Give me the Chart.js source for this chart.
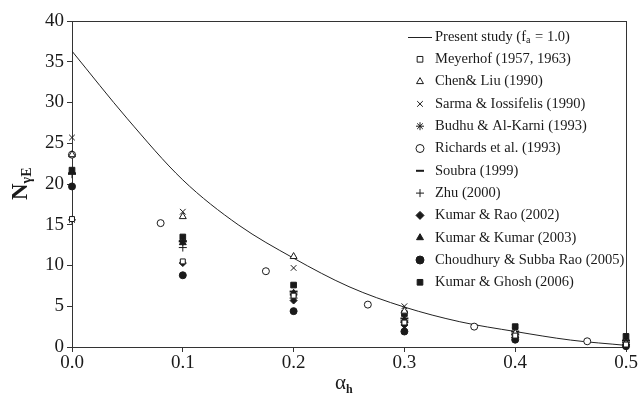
<!DOCTYPE html>
<html>
<head>
<meta charset="utf-8">
<script src="https://cdn.jsdelivr.net/npm/chart.js@4.4.1/dist/chart.umd.min.js"></script>
<style>
  html, body { margin: 0; padding: 0; background: #fff; }
  #wrap { width: 640px; height: 399px; }
</style>
</head>
<body>
<div id="wrap"><canvas id="c" width="640" height="399"></canvas></div>
<script>
// ---- data ----
const curveX = [0, 0.05, 0.1, 0.15, 0.2, 0.25, 0.3, 0.35, 0.4, 0.45, 0.5];
const presentStudy = [36.3, 28.0, 20.5, 15.0, 10.9, 7.4, 4.9, 3.1, 1.9, 0.85, 0.2];

const alphaSteps = [0, 0.1, 0.2, 0.3, 0.4, 0.5];
const meyerhof = [15.7, 10.5, 6.3, 3.0, 1.4, 0.3];
const chenLiu = [23.6, 16.0, 11.1, 4.4, 1.7, 0.4];
const sarma = [25.7, 16.6, 9.7, 5.0, 2.0, 0.5];
const budhu = [15.6, 12.9, 6.5, 3.2, 1.6, 0.6];
const richardsX = [0, 0.08, 0.175, 0.267, 0.363, 0.465];
const richards = [23.6, 15.2, 9.3, 5.2, 2.5, 0.7];
const soubra = [21.3, 13.0, 6.8, 3.5, 1.9, 0.8];
const zhu = [21.2, 12.2, 6.0, 3.0, 1.5, 0.5];
const kumarRao = [23.6, 10.3, 5.7, 2.7, 1.2, 0.3];
const kumarKumar = [21.5, 12.8, 6.6, 3.3, 1.4, 0.5];
const choudhury = [19.7, 8.8, 4.4, 1.9, 0.9, 0.1];
const kumarGhosh = [21.7, 13.5, 7.6, 4.1, 2.5, 1.3];

const yTicks = [0, 5, 10, 15, 20, 25, 30, 35, 40];
const xTicks = ['0.0', '0.1', '0.2', '0.3', '0.4', '0.5'];

const seriesNames = [
  'Meyerhof (1957, 1963)', 'Chen& Liu (1990)', 'Sarma & Iossifelis (1990)',
  'Budhu & Al-Karni (1993)', 'Richards et al. (1993)', 'Soubra (1999)', 'Zhu (2000)',
  'Kumar & Rao (2002)', 'Kumar & Kumar (2003)', 'Choudhury & Subba Rao (2005)', 'Kumar & Ghosh (2006)'
];

// ---- build ----
const INK = '#1a1a1a';
function pts(xs, ys) { return xs.map((x, i) => ({ x: x, y: ys[i] })); }
function mk(label, xs, ys, style, filled, radius) {
  return {
    type: 'scatter', label: label, data: pts(xs, ys), clip: false,
    pointStyle: style, pointRadius: radius, pointHoverRadius: radius,
    backgroundColor: filled ? INK : '#fff', borderColor: INK, borderWidth: 1
  };
}
const scatterSets = [
  mk(seriesNames[0], alphaSteps, meyerhof, 'rect', false, 3.5),
  mk(seriesNames[1], alphaSteps, chenLiu, 'triangle', false, 4),
  mk(seriesNames[2], alphaSteps, sarma, 'crossRot', false, 4),
  mk(seriesNames[3], alphaSteps, budhu, 'star', false, 4),
  mk(seriesNames[4], richardsX, richards, 'circle', false, 3.5),
  mk(seriesNames[5], alphaSteps, soubra, 'line', false, 4),
  mk(seriesNames[6], alphaSteps, zhu, 'cross', false, 4),
  mk(seriesNames[7], alphaSteps, kumarRao, 'rectRot', true, 3.5),
  mk(seriesNames[8], alphaSteps, kumarKumar, 'triangle', true, 4),
  mk(seriesNames[9], alphaSteps, choudhury, 'circle', true, 3.5),
  mk(seriesNames[10], alphaSteps, kumarGhosh, 'rect', true, 4)
];
scatterSets.forEach(d => { if (d.pointStyle === 'line') d.borderWidth = 2; });

const lineSet = {
  type: 'line', label: 'Present study', data: pts(curveX, presentStudy),
  borderColor: '#222', borderWidth: 1, pointRadius: 0, fill: false,
  cubicInterpolationMode: 'monotone', order: 20
};

const SERIF = "'Liberation Serif', 'DejaVu Serif', serif";

const framePlugin = {
  id: 'frame',
  beforeDatasetsDraw(chart) {
    const { ctx, chartArea: a } = chart;
    ctx.save();
    ctx.strokeStyle = '#333';
    ctx.lineWidth = 1;
    ctx.strokeRect(Math.round(a.left) + 0.5, Math.round(a.top) + 0.5,
                   Math.round(a.right - a.left), Math.round(a.bottom - a.top));
    ctx.restore();
  }
};

const legendPlugin = {
  id: 'customLegend',
  afterDraw(chart) {
    const { ctx } = chart;
    const mx = 420, tx = 435, y0 = 37, dy = 22.3;
    ctx.save();
    ctx.font = '14.5px ' + SERIF;
    ctx.fillStyle = INK;
    ctx.textBaseline = 'middle';
    // line entry
    ctx.strokeStyle = '#222'; ctx.lineWidth = 1;
    ctx.beginPath(); ctx.moveTo(408, y0 + 0.5); ctx.lineTo(432, y0 + 0.5); ctx.stroke();
    let x = tx;
    const s1 = 'Present study (f';
    ctx.fillText(s1, x, y0); x += ctx.measureText(s1).width;
    ctx.font = '10px ' + SERIF;
    ctx.fillText('a', x, y0 + 3); x += ctx.measureText('a').width + 1;
    ctx.font = '14.5px ' + SERIF;
    ctx.fillText(' = 1.0)', x, y0);
    scatterSets.forEach((d, idx) => {
      const y = y0 + dy * (idx + 1);
      ctx.fillStyle = d.backgroundColor;
      ctx.strokeStyle = d.borderColor;
      ctx.lineWidth = d.borderWidth;
      Chart.helpers.drawPoint(ctx, { pointStyle: d.pointStyle, radius: 4, rotation: 0, borderWidth: d.borderWidth }, mx, y);
      ctx.fillStyle = INK;
      ctx.fillText(d.label, tx, y);
    });
    ctx.restore();
  }
};

const titlesPlugin = {
  id: 'axisTitles',
  afterDraw(chart) {
    const { ctx } = chart;
    ctx.save();
    ctx.fillStyle = INK;
    // y title  N_{γE}
    ctx.translate(27, 200);
    ctx.rotate(-Math.PI / 2);
    ctx.textBaseline = 'alphabetic';
    ctx.font = 'bold 23px ' + SERIF;
    ctx.fillText('N', 0, 0);
    const w = ctx.measureText('N').width;
    ctx.font = 'bold 14px ' + SERIF;
    ctx.fillText('γE', w, 4);
    ctx.restore();
    // x title  α_h
    ctx.save();
    ctx.fillStyle = INK;
    ctx.textBaseline = 'alphabetic';
    ctx.font = '21px ' + SERIF;
    ctx.fillText('α', 335, 389);
    const aw = ctx.measureText('α').width;
    ctx.font = 'bold 12px ' + SERIF;
    ctx.fillText('h', 335 + aw, 393);
    ctx.restore();
  }
};

new Chart(document.getElementById('c'), {
  data: { datasets: [lineSet].concat(scatterSets) },
  options: {
    responsive: false, animation: false, devicePixelRatio: 1,
    layout: { padding: { left: 0, right: 14, top: 21, bottom: 0 } },
    plugins: { legend: { display: false }, tooltip: { enabled: false } },
    scales: {
      x: {
        type: 'linear', min: 0, max: 0.5,
        afterBuildTicks: s => { s.ticks = xTicks.map(t => ({ value: parseFloat(t) })); },
        afterFit: s => { s.height = 52; },
        ticks: { callback: (v) => xTicks.find(t => Math.abs(parseFloat(t) - v) < 1e-9) || '',
                 font: { family: SERIF, size: 19 }, color: INK, padding: 0, maxRotation: 0 },
        grid: { drawOnChartArea: false, tickLength: 5, color: '#333' },
        border: { color: '#333', width: 1 }
      },
      y: {
        type: 'linear', min: 0, max: 40,
        afterBuildTicks: s => { s.ticks = yTicks.map(v => ({ value: v })); },
        afterFit: s => { s.width = 72; },
        ticks: { font: { family: SERIF, size: 19 }, color: INK, padding: 3 },
        grid: { drawOnChartArea: false, tickLength: 5, color: '#333' },
        border: { color: '#333', width: 1 }
      }
    }
  },
  plugins: [framePlugin, legendPlugin, titlesPlugin]
});
</script>
</body>
</html>
